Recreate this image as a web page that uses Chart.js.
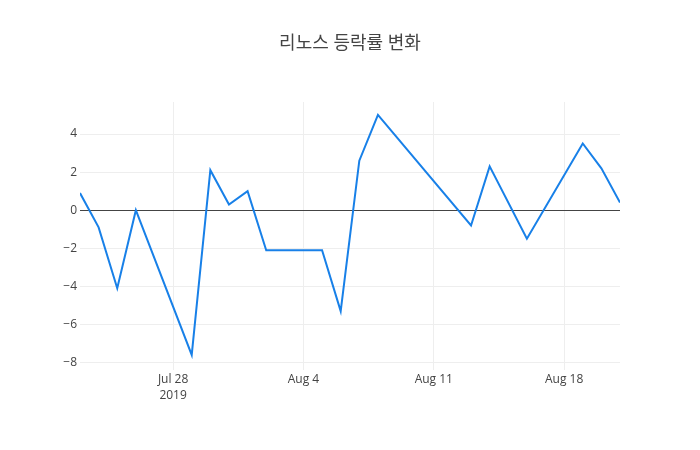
<!DOCTYPE html>
<html>
<head>
<meta charset="utf-8">
<script src="https://cdn.jsdelivr.net/npm/chart.js@4"></script>
<style>
  html, body { margin: 0; padding: 0; background: #fff; }
  #wrap { width: 700px; height: 450px; }
</style>
</head>
<body>
<div id="wrap"><canvas id="chart" width="700" height="450"></canvas></div>
<script>
// day number counted from Jul 1 2019 (Aug 1 = 32)
const days = [23, 24, 25, 26, 29, 30, 31, 32, 33, 36, 37, 38, 39, 44, 45, 47, 50, 51, 52];
const changeRate = [0.9, -0.9, -4.1, 0, -7.6, 2.1, 0.3, 1.0, -2.1, -2.1, -5.3, 2.6, 5.0, -0.8, 2.3, -1.5, 3.5, 2.2, 0.4];
const xTickDays = [28, 35, 42, 49];
const xTickLabels = [["Jul 28", "2019"], "Aug 4", "Aug 11", "Aug 18"];
const yTicks = [-8, -6, -4, -2, 0, 2, 4];

const fontFamily = "'Open Sans', 'Noto Sans CJK KR', sans-serif";

document.addEventListener("DOMContentLoaded", () => {
    const ctx = document.getElementById("chart").getContext("2d");
    new Chart(ctx, {
        type: "line",
        data: {
            datasets: [{
                label: "등락률",
                data: days.map((d, i) => ({ x: d, y: changeRate[i] })),
                borderColor: "rgb(24, 128, 232)",
                borderWidth: 2,
                pointRadius: 0,
                tension: 0,
                fill: false,
            }],
        },
        options: {
            responsive: false,
            animation: false,
            devicePixelRatio: 1,
            layout: { padding: 0 },
            plugins: {
                legend: { display: false },
                tooltip: { enabled: false },
                title: {
                    display: true,
                    text: "리노스 등락률 변화",
                    color: "#444",
                    font: { family: fontFamily, size: 18, weight: "normal", lineHeight: 1.2 },
                    padding: { top: 33, bottom: 47.4 },
                },
            },
            scales: {
                x: {
                    type: "linear",
                    min: 23,
                    max: 52,
                    afterBuildTicks: (scale) => {
                        scale.ticks = xTickDays.map(v => ({ value: v }));
                    },
                    afterFit: (scale) => { scale.height = 80; },
                    ticks: {
                        autoSkip: false,
                        maxRotation: 0,
                        padding: 2,
                        color: "#444",
                        font: { family: fontFamily, size: 12, lineHeight: 1.3 },
                        callback: (value) => {
                            const i = xTickDays.indexOf(value);
                            return i >= 0 ? xTickLabels[i] : "";
                        },
                    },
                    grid: { color: "#eee", drawTicks: false },
                    border: { display: false },
                },
                y: {
                    min: -8.39,
                    max: 5.68,
                    afterBuildTicks: (scale) => {
                        scale.ticks = yTicks.map(v => ({ value: v }));
                    },
                    afterFit: (scale) => { scale.width = 80; },
                    ticks: {
                        padding: 3,
                        color: "#444",
                        font: { family: fontFamily, size: 12 },
                        callback: (value) => String(value).replace("-", "\u2212"),
                    },
                    grid: {
                        drawTicks: false,
                        color: (c) => (c.tick && c.tick.value === 0 ? "#444" : "#eee"),
                        lineWidth: 1,
                    },
                    border: { display: false },
                },
                // empty right margin so the title stays centred on the page
                yRight: {
                    position: "right",
                    min: -8.39,
                    max: 5.68,
                    afterFit: (scale) => { scale.width = 80; },
                    ticks: { display: false },
                    grid: { display: false, drawTicks: false },
                    border: { display: false },
                },
            },
        },
    });
});
</script>
</body>
</html>
